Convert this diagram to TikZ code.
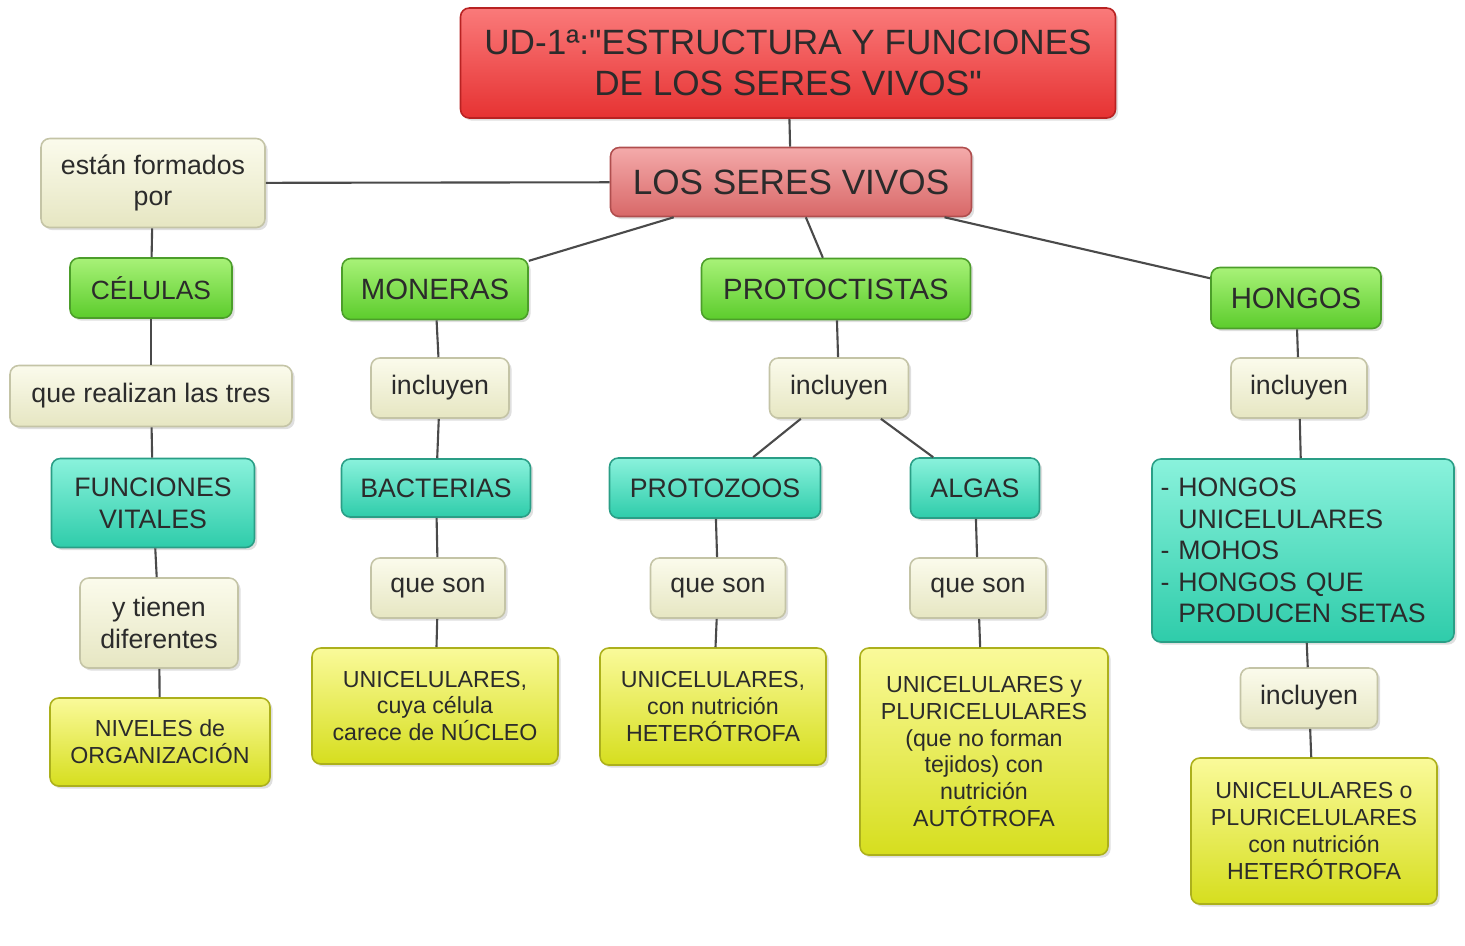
\documentclass[tikz,border=0pt]{standalone}
\usepackage{fontspec}
\setmainfont{Liberation Sans}
\usetikzlibrary{shadows, positioning}

\definecolor{inkgray}{HTML}{2B2B2B}
\definecolor{wiregray}{HTML}{4A4A4A}
\definecolor{redtop}{HTML}{FA7A7A}
\definecolor{redbot}{HTML}{E63232}
\definecolor{redline}{HTML}{B82222}
\definecolor{rosetop}{HTML}{F4AAAA}
\definecolor{rosebot}{HTML}{D86868}
\definecolor{roseline}{HTML}{B04E4E}
\definecolor{greentop}{HTML}{A8F278}
\definecolor{greenbot}{HTML}{5CCC2C}
\definecolor{greenline}{HTML}{4C9E2A}
\definecolor{tealtop}{HTML}{8AF2DC}
\definecolor{tealbot}{HTML}{2ECCAA}
\definecolor{tealline}{HTML}{2A9E86}
\definecolor{creamtop}{HTML}{FBFBEC}
\definecolor{creambot}{HTML}{E6E6C2}
\definecolor{creamline}{HTML}{C4C4A6}
\definecolor{yellowtop}{HTML}{FAFA9A}
\definecolor{yellowbot}{HTML}{D6DE1E}
\definecolor{yellowline}{HTML}{ACB01C}

\begin{document}
\begin{tikzpicture}[%
        box/.style={rectangle, rounded corners=5pt, line width=0.9pt, align=center, text=inkgray, inner sep=2pt, drop shadow={opacity=0.25, shadow xshift=1.5pt, shadow yshift=-1.5pt}},
        titlebox/.style={box, draw=redline, top color=redtop, bottom color=redbot, font=\fontsize{20}{23}\selectfont},
        mainbox/.style={box, draw=roseline, top color=rosetop, bottom color=rosebot, font=\fontsize{20}{23}\selectfont},
        groupbox/.style={box, draw=greenline, top color=greentop, bottom color=greenbot, font=\fontsize{16.7}{19}\selectfont},
        kindbox/.style={box, draw=tealline, top color=tealtop, bottom color=tealbot, font=\fontsize{15.2}{18}\selectfont},
        linkbox/.style={box, draw=creamline, top color=creamtop, bottom color=creambot, font=\fontsize{15.2}{18}\selectfont},
        descbox/.style={box, draw=yellowline, top color=yellowtop, bottom color=yellowbot, font=\fontsize{13.2}{15.2}\selectfont},
        wire/.style={draw=wiregray, line width=1.2pt}%
    ]
        \useasboundingbox (0,0) rectangle (29.3,-18.9);

        \node[titlebox, minimum width=13.1cm, minimum height=2.2cm] (title) at (15.76,-1.26) {UD-1ª:\textquotedbl ESTRUCTURA Y FUNCIONES\\DE LOS SERES VIVOS\textquotedbl};
        \node[mainbox, minimum width=7.22cm, minimum height=1.38cm] (seres) at (15.82,-3.64) {LOS SERES VIVOS};

        % left branch
        \node[linkbox, minimum width=4.48cm, minimum height=1.78cm] (formados) at (3.06,-3.66) {están formados\\por};
        \node[groupbox, font=\fontsize{15}{18}\selectfont, minimum width=3.24cm, minimum height=1.2cm] (celulas) at (3.02,-5.76) {CÉLULAS};
        \node[linkbox, minimum width=5.64cm, minimum height=1.22cm] (realizan) at (3.02,-7.92) {que realizan las tres};
        \node[kindbox, minimum width=4.06cm, minimum height=1.78cm] (funciones) at (3.06,-10.06) {FUNCIONES\\VITALES};
        \node[linkbox, minimum width=3.16cm, minimum height=1.8cm] (tienen) at (3.18,-12.46) {y tienen\\diferentes};
        \node[descbox, minimum width=4.4cm, minimum height=1.76cm] (niveles) at (3.20,-14.84) {NIVELES de\\ORGANIZACIÓN};

        % moneras
        \node[groupbox, minimum width=3.72cm, minimum height=1.22cm] (moneras) at (8.70,-5.78) {MONERAS};
        \node[linkbox, minimum width=2.76cm, minimum height=1.2cm] (incmon) at (8.80,-7.76) {incluyen};
        \node[kindbox, minimum width=3.78cm, minimum height=1.16cm] (bacterias) at (8.72,-9.76) {BACTERIAS};
        \node[linkbox, minimum width=2.68cm, minimum height=1.2cm] (sonbac) at (8.76,-11.76) {que son};
        \node[descbox, minimum width=4.92cm, minimum height=2.32cm] (descbac) at (8.70,-14.12) {UNICELULARES,\\cuya célula\\carece de NÚCLEO};

        % protoctistas
        \node[groupbox, minimum width=5.38cm, minimum height=1.22cm] (protoct) at (16.72,-5.78) {PROTOCTISTAS};
        \node[linkbox, minimum width=2.78cm, minimum height=1.2cm] (incpro) at (16.78,-7.76) {incluyen};
        \node[kindbox, minimum width=4.22cm, minimum height=1.2cm] (protozoos) at (14.30,-9.76) {PROTOZOOS};
        \node[kindbox, minimum width=2.58cm, minimum height=1.2cm] (algas) at (19.50,-9.76) {ALGAS};
        \node[linkbox, minimum width=2.7cm, minimum height=1.2cm] (sonzoo) at (14.36,-11.76) {que son};
        \node[linkbox, minimum width=2.72cm, minimum height=1.2cm] (sonalg) at (19.56,-11.76) {que son};
        \node[descbox, minimum width=4.52cm, minimum height=2.34cm] (desczoo) at (14.26,-14.13) {UNICELULARES,\\con nutrición\\HETERÓTROFA};
        \node[descbox, minimum width=4.96cm, minimum height=4.14cm] (descalg) at (19.68,-15.03) {UNICELULARES y\\PLURICELULARES\\(que no forman\\tejidos) con\\nutrición\\AUTÓTROFA};

        % hongos
        \node[groupbox, minimum width=3.4cm, minimum height=1.22cm] (hongos) at (25.92,-5.96) {HONGOS};
        \node[linkbox, minimum width=2.72cm, minimum height=1.2cm] (inchon) at (25.98,-7.76) {incluyen};
        \node[kindbox, align=left, minimum width=6.04cm, minimum height=3.66cm, text width=5.7cm] (tiposhon) at (26.06,-11.01) {- HONGOS\\\phantom{- }UNICELULARES\\- MOHOS\\- HONGOS QUE\\\phantom{- }PRODUCEN SETAS};
        \node[linkbox, minimum width=2.74cm, minimum height=1.2cm] (inctipos) at (26.18,-13.96) {incluyen};
        \node[descbox, minimum width=4.92cm, minimum height=2.92cm] (deschon) at (26.28,-16.62) {UNICELULARES o\\PLURICELULARES\\con nutrición\\HETERÓTROFA};

        \draw[wire] (title) -- (seres);
        \draw[wire] (seres) -- (formados);
        \draw[wire] (seres) -- (moneras);
        \draw[wire] (seres) -- (protoct);
        \draw[wire] (seres) -- (hongos);

        \draw[wire] (formados) -- (celulas);
        \draw[wire] (celulas) -- (realizan);
        \draw[wire] (realizan) -- (funciones);
        \draw[wire] (funciones) -- (tienen);
        \draw[wire] (tienen) -- (niveles);

        \draw[wire] (moneras) -- (incmon);
        \draw[wire] (incmon) -- (bacterias);
        \draw[wire] (bacterias) -- (sonbac);
        \draw[wire] (sonbac) -- (descbac);

        \draw[wire] (protoct) -- (incpro);
        \draw[wire] (incpro) -- (protozoos);
        \draw[wire] (incpro) -- (algas);
        \draw[wire] (protozoos) -- (sonzoo);
        \draw[wire] (algas) -- (sonalg);
        \draw[wire] (sonzoo) -- (desczoo);
        \draw[wire] (sonalg) -- (descalg);

        \draw[wire] (hongos) -- (inchon);
        \draw[wire] (inchon) -- (tiposhon);
        \draw[wire] (tiposhon) -- (inctipos);
        \draw[wire] (inctipos) -- (deschon);
    \end{tikzpicture}
\end{document}
